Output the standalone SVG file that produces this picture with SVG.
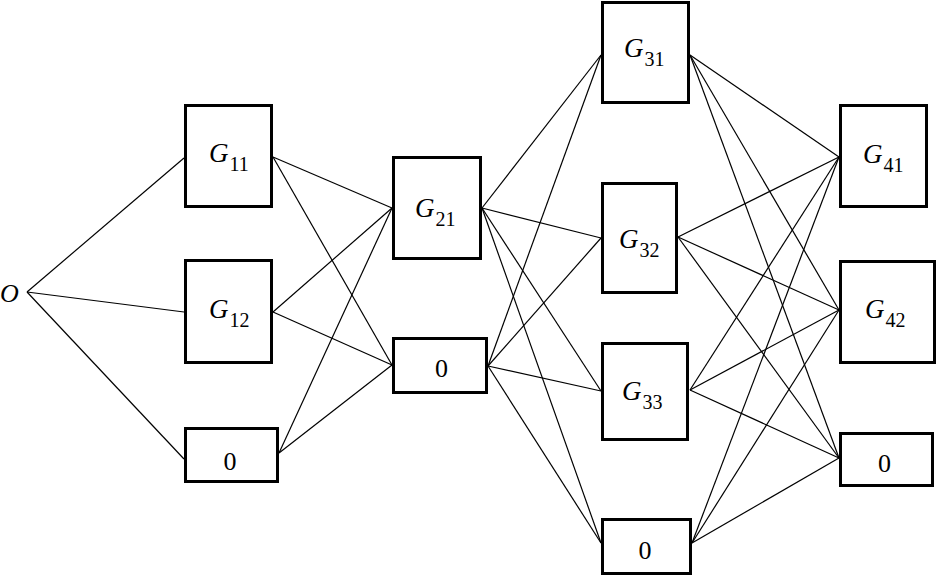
<svg xmlns="http://www.w3.org/2000/svg" width="937" height="577" viewBox="0 0 937 577">
<style>
  .box { fill: #fff; stroke: #000; stroke-width: 3; }
  .lbl { font-family: "Liberation Serif", "Times New Roman", serif; font-size: 26px; fill: #000; }
  .g { font-size: 27px; }
  .it { font-style: italic; }
  .sub { font-size: 20px; font-style: normal; }
  #connectors line { stroke: #000; stroke-width: 1.2; }
</style>
<rect width="937" height="577" fill="#fff"/>
<g id="connectors">
  <line x1="27" y1="292" x2="184" y2="158"/>
  <line x1="27" y1="292" x2="184" y2="312"/>
  <line x1="27" y1="292" x2="184" y2="459"/>
  <line x1="273" y1="157" x2="392" y2="208"/>
  <line x1="273" y1="157" x2="392" y2="365"/>
  <line x1="273" y1="312" x2="392" y2="208"/>
  <line x1="273" y1="312" x2="392" y2="365"/>
  <line x1="279" y1="453" x2="392" y2="208"/>
  <line x1="279" y1="453" x2="392" y2="365"/>
  <line x1="482" y1="208" x2="601" y2="55"/>
  <line x1="482" y1="208" x2="601" y2="238"/>
  <line x1="482" y1="208" x2="601" y2="391"/>
  <line x1="482" y1="208" x2="601" y2="543"/>
  <line x1="488" y1="366" x2="601" y2="55"/>
  <line x1="488" y1="366" x2="601" y2="238"/>
  <line x1="488" y1="366" x2="601" y2="391"/>
  <line x1="488" y1="366" x2="601" y2="543"/>
  <line x1="690" y1="55" x2="839" y2="157"/>
  <line x1="690" y1="55" x2="839" y2="310"/>
  <line x1="690" y1="55" x2="839" y2="458"/>
  <line x1="678" y1="237" x2="839" y2="157"/>
  <line x1="678" y1="237" x2="839" y2="310"/>
  <line x1="678" y1="237" x2="839" y2="458"/>
  <line x1="690" y1="390" x2="839" y2="157"/>
  <line x1="690" y1="390" x2="839" y2="310"/>
  <line x1="690" y1="390" x2="839" y2="458"/>
  <line x1="692" y1="543" x2="839" y2="157"/>
  <line x1="692" y1="543" x2="839" y2="310"/>
  <line x1="692" y1="543" x2="839" y2="458"/>
</g>
<g id="O"><text class="lbl it" x="0" y="302">O</text></g>
<g id="G11"><rect class="box" x="185.5" y="105.5" width="86" height="101"/><text class="lbl g" x="209" y="162"><tspan class="it">G</tspan><tspan class="sub" dx="1" dy="9">11</tspan></text></g>
<g id="G12"><rect class="box" x="185.5" y="260.5" width="86" height="102"/><text class="lbl g" x="209" y="318"><tspan class="it">G</tspan><tspan class="sub" dx="1" dy="9">12</tspan></text></g>
<g id="Z1"><rect class="box" x="185.5" y="428.5" width="92" height="53"/><text class="lbl" x="230" y="470" text-anchor="middle">0</text></g>
<g id="G21"><rect class="box" x="393.5" y="157.5" width="87" height="101"/><text class="lbl g" x="415" y="217"><tspan class="it">G</tspan><tspan class="sub" dx="1" dy="9">21</tspan></text></g>
<g id="Z2"><rect class="box" x="393.5" y="338.5" width="93" height="54"/><text class="lbl" x="441.5" y="377" text-anchor="middle">0</text></g>
<g id="G31"><rect class="box" x="602.5" y="2.5" width="86" height="100"/><text class="lbl g" x="624" y="57"><tspan class="it">G</tspan><tspan class="sub" dx="1" dy="9">31</tspan></text></g>
<g id="G32"><rect class="box" x="602.5" y="183.5" width="74" height="109"/><text class="lbl g" x="619" y="248"><tspan class="it">G</tspan><tspan class="sub" dx="1" dy="9">32</tspan></text></g>
<g id="G33"><rect class="box" x="602.5" y="343.5" width="85" height="96"/><text class="lbl g" x="622" y="400"><tspan class="it">G</tspan><tspan class="sub" dx="1" dy="9">33</tspan></text></g>
<g id="Z3"><rect class="box" x="602.5" y="519.5" width="88" height="54"/><text class="lbl" x="645" y="559" text-anchor="middle">0</text></g>
<g id="G41"><rect class="box" x="840.5" y="105.5" width="86" height="101"/><text class="lbl g" x="863" y="163"><tspan class="it">G</tspan><tspan class="sub" dx="1" dy="9">41</tspan></text></g>
<g id="G42"><rect class="box" x="840.5" y="261.5" width="94" height="101"/><text class="lbl g" x="865" y="318"><tspan class="it">G</tspan><tspan class="sub" dx="1" dy="9">42</tspan></text></g>
<g id="Z4"><rect class="box" x="840.5" y="433.5" width="92" height="52"/><text class="lbl" x="884.5" y="472" text-anchor="middle">0</text></g>
</svg>
